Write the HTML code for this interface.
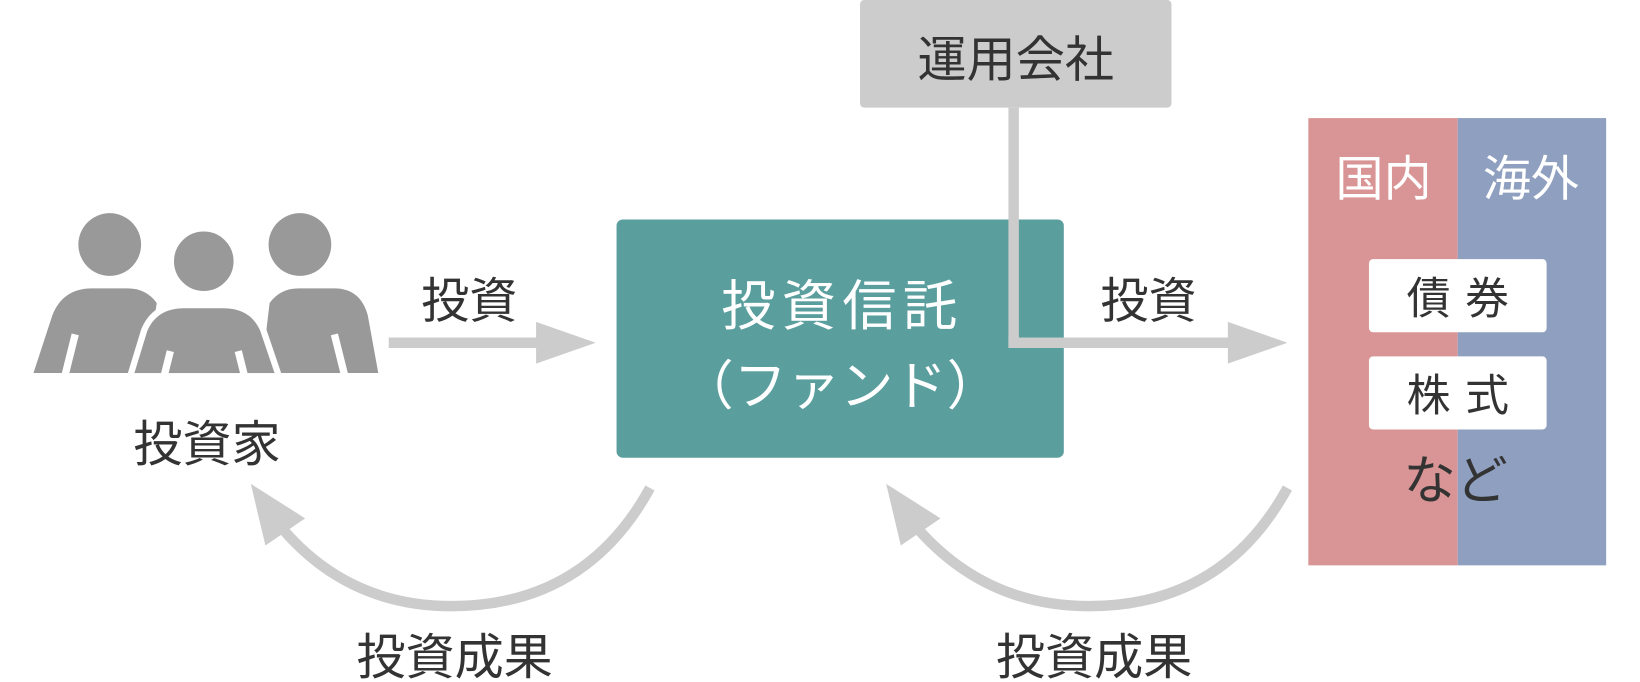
<!DOCTYPE html>
<html><head><meta charset="utf-8"><style>
body{margin:0;background:#fff;}
svg{display:block}
text{font-family:"Liberation Sans","Noto Sans CJK JP",sans-serif;}
</style></head><body>
<svg width="1640" height="682" viewBox="0 0 1640 682" xmlns="http://www.w3.org/2000/svg">
<g transform="scale(1.045)">
<!-- people -->
<g fill="#999">
<circle cx="105" cy="234" r="30"/>
<circle cx="287" cy="234" r="30"/>
<path d="M32,357 L50,302 Q60,276 88,276 L122,276 Q140,276 150,290 L140,357 Z"/>
<path d="M258,290 Q268,276 286,276 L320,276 Q345,276 352,302 L362,357 L250,357 Z"/>
</g>
<g fill="#999" stroke="#fff" stroke-width="6">
<path d="M120,375 L138,316 Q148,292 176,292 L214,292 Q242,292 252,316 L272,375 Z"/>
</g>
<circle cx="195" cy="250" r="31" fill="#999" stroke="#fff" stroke-width="5"/>
<g stroke="#fff" stroke-width="7">
<line x1="72" y1="320" x2="62" y2="360"/><line x1="320" y1="320" x2="330" y2="360"/>
<line x1="163" y1="336" x2="153" y2="376"/><line x1="228" y1="336" x2="238" y2="376"/>
</g>
<rect x="0" y="357" width="380" height="20" fill="#fff"/>
<text x="198" y="441" font-size="47" text-anchor="middle" fill="#333">投資家</text>

<!-- top box -->
<rect x="823" y="0" width="298" height="103" rx="4" fill="#cccccc"/>
<text x="972" y="73" font-size="47" text-anchor="middle" fill="#333">運用会社</text>

<!-- fund -->
<rect x="590" y="210" width="428" height="228" rx="6" fill="#5a9e9e"/>
<text x="806" y="311" font-size="52" text-anchor="middle" fill="#fff" letter-spacing="6">投資信託</text>
<text x="804" y="387" font-size="51" text-anchor="middle" fill="#fff">（ファンド）</text>

<!-- arrows -->
<g fill="#ccc" stroke="none">
<rect x="372" y="323" width="148" height="10"/>
<polygon points="513,308 570,328 513,348"/>
<rect x="965" y="103" width="10" height="230"/>
<rect x="965" y="323" width="215" height="10"/>
<polygon points="1175,308 1232,328 1175,348"/>
</g>
<text x="449" y="304" font-size="46" text-anchor="middle" fill="#333">投資</text>
<text x="1099" y="304" font-size="46" text-anchor="middle" fill="#333">投資</text>

<!-- curved arrows -->
<g fill="none" stroke="#ccc" stroke-width="10">
<path d="M622,467 Q560,580 432,580 Q335,580 272,508"/>
<path d="M1232,467 Q1170,580 1042,580 Q945,580 880,508"/>
</g>
<g fill="#ccc">
<polygon points="240,463 292,496 254,522"/>
<polygon points="848,463 900,496 862,522"/>
</g>
<text x="435" y="645" font-size="47" text-anchor="middle" fill="#333">投資成果</text>
<text x="1047" y="645" font-size="47" text-anchor="middle" fill="#333">投資成果</text>

<!-- right panel -->
<rect x="1252" y="113" width="143" height="428" fill="#d99595"/>
<rect x="1395" y="113" width="142" height="428" fill="#8f9fbf"/>
<text x="1324" y="187" font-size="46" text-anchor="middle" fill="#fff">国内</text>
<text x="1465" y="187" font-size="46" text-anchor="middle" fill="#fff">海外</text>
<rect x="1310" y="248" width="170" height="70" rx="4" fill="#fff"/>
<rect x="1310" y="341" width="170" height="70" rx="4" fill="#fff"/>
<text x="1402" y="300" font-size="42" text-anchor="middle" fill="#333" letter-spacing="14">債券</text>
<text x="1402" y="393" font-size="42" text-anchor="middle" fill="#333" letter-spacing="14">株式</text>
<text x="1393" y="477" font-size="50" text-anchor="middle" fill="#333">など</text>
</g>
</svg>
</body></html>
